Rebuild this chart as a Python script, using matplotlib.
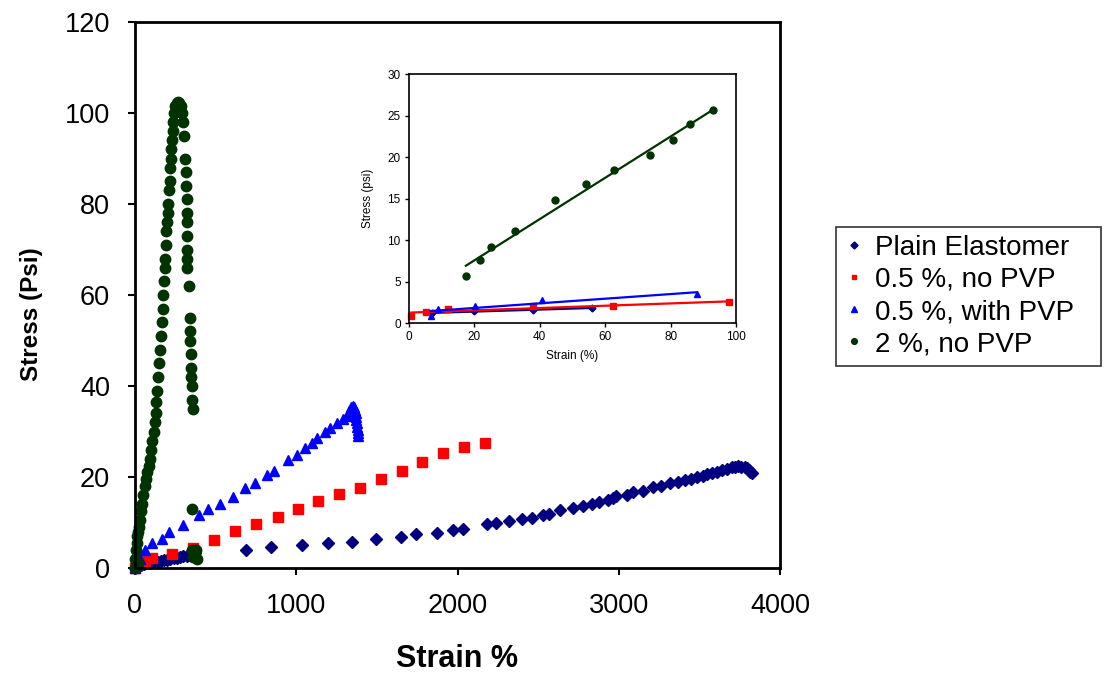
import numpy as np
import matplotlib
matplotlib.use("Agg")
import matplotlib.pyplot as plt

plt.rcParams['font.family'] = ['Liberation Sans', 'DejaVu Sans']

# ---------------- main chart data ----------------
labels = ["Plain Elastomer", "0.5 %, no PVP", "0.5 %, with PVP", "2 %, no PVP"]

plain_x = [0, 10, 25, 40, 55, 70, 85, 100, 120, 140, 160, 180, 200, 220, 240, 260, 280, 300,
           320, 340, 360, 375, 686, 841, 1033, 1199, 1344, 1494, 1649, 1743, 1875, 1970, 2032,
           2181, 2239, 2321, 2398, 2464, 2532, 2569, 2636, 2718, 2776, 2832, 2879, 2935, 2966,
           2983, 3049, 3090, 3152, 3214, 3260, 3318, 3365, 3411, 3450, 3483, 3520, 3545, 3580,
           3607, 3640, 3669, 3700, 3720, 3740, 3760, 3780, 3793, 3805, 3815, 3824]
plain_y = [0, 0.3, 0.5, 0.7, 0.9, 1.0, 1.1, 1.2, 1.3, 1.4, 1.6, 1.7, 1.8, 2.0, 2.1, 2.3, 2.4, 2.6,
           2.7, 2.9, 3.0, 3.2, 4.0, 4.7, 5.1, 5.6, 5.8, 6.4, 6.9, 7.5, 7.8, 8.4, 8.6,
           9.6, 9.8, 10.4, 10.8, 11.0, 11.6, 11.9, 12.7, 13.1, 13.7, 14.1, 14.6, 14.9, 15.3,
           15.8, 16.0, 16.8, 16.9, 17.7, 18.1, 18.6, 19.0, 19.3, 19.6, 19.9, 20.3, 20.6, 20.9,
           21.2, 21.5, 21.7, 22.1, 22.3, 22.4, 22.3, 22.2, 22.0, 21.5, 21.0, 20.8]

nopvp_x = [0, 30, 60, 103, 227, 362, 490, 620, 748, 884, 1009, 1137, 1265, 1395, 1524, 1654,
           1782, 1912, 2040, 2171]
nopvp_y = [0, 1.0, 1.6, 2.3, 3.1, 4.3, 6.2, 8.1, 9.7, 11.3, 12.9, 14.7, 16.3, 17.5, 19.5, 21.4,
           23.4, 25.3, 26.5, 27.4]

pvp_x = [0, 30, 60, 103, 165, 213, 300, 399, 455, 527, 610, 682, 744, 817, 862, 951, 1003,
         1054, 1096, 1127, 1178, 1209, 1251, 1290, 1320, 1330, 1340, 1350, 1360, 1365, 1368,
         1370, 1372, 1375, 1378, 1380, 1382, 1385]
pvp_y = [0, 2.0, 4.0, 5.6, 6.3, 8.0, 9.5, 11.6, 12.9, 14.1, 15.7, 17.5, 18.7, 20.4, 21.4, 23.7,
         24.8, 26.3, 27.4, 28.5, 30.0, 30.7, 31.9, 32.8, 33.5, 34.5, 35.3, 35.5, 35.3, 34.8, 34.0,
         33.2, 32.5, 31.8, 31.0, 30.3, 29.6, 29.0]

two_x = [0, 3, 6, 10, 15, 20, 25, 31, 38, 45, 52, 60, 68, 76, 85, 93, 100, 108, 115, 122, 128,
         133, 136, 142, 148, 154, 160, 167, 172, 176, 180, 183, 186, 190, 194, 198, 202, 206,
         211, 214, 217, 221, 225, 229, 233, 236, 242, 250, 258, 267, 275, 283, 290, 298, 304,
         310, 315, 318, 322, 322, 322, 322, 322, 323, 325, 335, 338, 340, 342, 345, 348, 350,
         353, 356, 358, 353, 355, 365, 375, 385, 380, 360, 10, 20]
two_y = [0, 2, 4, 5.5, 7, 8, 9, 10.5, 12.5, 14, 16, 18, 19.5, 21, 22.5, 24, 26, 28, 30, 32, 34,
         36.5, 39, 42, 45, 48, 51, 54, 57, 60, 63, 66, 68, 71, 74, 76, 78, 80,
         83, 85, 88, 90, 92, 94, 96, 98, 100, 101.5, 102.3, 102.5, 102.3, 101.5, 100, 98, 95,
         90, 87, 84, 81, 78, 76, 73, 70, 68, 66, 62, 55, 52, 50, 47, 44, 42,
         40, 37, 35, 13, 4, 3, 3.5, 2, 4, 2.5, 0.5, 1]

# ---------------- inset data ----------------
in_plain_x = [7, 20, 38, 56]
in_plain_y = [1.2, 1.4, 1.6, 1.8]
in_nopvp_x = [0.7, 5.3, 12, 38, 62.5, 98]
in_nopvp_y = [0.9, 1.3, 1.7, 2.0, 2.1, 2.5]
in_pvp_x = [6.6, 8.9, 20.1, 40.6, 88.0]
in_pvp_y = [0.85, 1.7, 2.0, 2.8, 3.5]
in_two_x = [17.4, 21.7, 25.2, 32.4, 44.8, 54.1, 62.7, 73.8, 80.7, 86.0, 93.0]
in_two_y = [5.7, 7.6, 9.2, 11.1, 14.8, 16.7, 18.4, 20.2, 22.1, 24.0, 25.7]

colors = ['#000080', '#FF0000', '#0000FF', '#003300']
markers = ['D', 's', '^', 'o']
msizes = [6.5, 6.5, 7.5, 7.5]

fig = plt.figure(figsize=(11.04, 6.75), dpi=100)
ax = fig.add_axes([135/1104, 1-568/675, (780-135)/1104, (568-22)/675])

series = [(plain_x, plain_y), (nopvp_x, nopvp_y), (pvp_x, pvp_y), (two_x, two_y)]
handles = []
for (sx, sy), c, m, ms, lab in zip(series, colors, markers, msizes, labels):
    h, = ax.plot(sx, sy, linestyle='none', marker=m, color=c, markersize=ms,
                 markeredgecolor=c, label=lab, clip_on=False)
    handles.append(h)

ax.set_xlim(0, 4000)
ax.set_ylim(0, 120)
ax.set_xticks(np.arange(0, 4001, 1000))
ax.set_yticks(np.arange(0, 121, 20))
ax.tick_params(direction='out', length=5, width=1.5, labelsize=19.5, pad=13, colors='black')
ax.tick_params(axis='x', pad=13)
for sp in ax.spines.values():
    sp.set_linewidth(2.0)
ax.set_xlabel("Strain %", fontsize=22, fontweight='bold')
ax.set_ylabel("Stress (Psi)", fontsize=17.5, fontweight='bold')
ax.xaxis.set_label_coords(0.5, -0.14)
ax.yaxis.set_label_coords(-0.143, 0.465)

# legend
leg = fig.legend(handles=handles, labels=labels,
                 bbox_to_anchor=(836/1104, 1-378/675, (1101-836)/1104, (378-214)/675),
                 loc='center left', mode='expand', fontsize=20, frameon=True,
                 fancybox=False, shadow=False, markerscale=0.55, handlelength=0.7,
                 handletextpad=0.4, labelspacing=0.22, borderpad=0.3, borderaxespad=0)
leg.get_frame().set_edgecolor('black')
leg.get_frame().set_linewidth(1.2)

# inset
ins = fig.add_axes([409/1104, 1-323/675, (736-409)/1104, (323-74)/675])
in_series = [(in_plain_x, in_plain_y), (in_nopvp_x, in_nopvp_y),
             (in_pvp_x, in_pvp_y), (in_two_x, in_two_y)]
in_ms = [3.5, 4, 5, 5]
for (sx, sy), c, m, ms in zip(in_series, colors, markers, in_ms):
    sx = np.array(sx); sy = np.array(sy)
    ins.plot(sx, sy, linestyle='none', marker=m, color=c, markersize=ms, clip_on=False)
    k, b = np.polyfit(sx, sy, 1)
    xx = np.array([sx.min(), sx.max()])
    ins.plot(xx, k*xx + b, color=c, linewidth=1.6)
ins.set_xlim(0, 100)
ins.set_ylim(0, 30)
ins.set_xticks(np.arange(0, 101, 20))
ins.set_yticks(np.arange(0, 31, 5))
ins.tick_params(direction='out', length=3, width=1, labelsize=8.5, pad=3)
for sp in ins.spines.values():
    sp.set_linewidth(1.2)
ins.set_xlabel("Strain (%)", fontsize=8.5, labelpad=5)
ins.set_ylabel("Stress (psi)", fontsize=8.5, labelpad=10)

fig.savefig("out.png", dpi=100)
